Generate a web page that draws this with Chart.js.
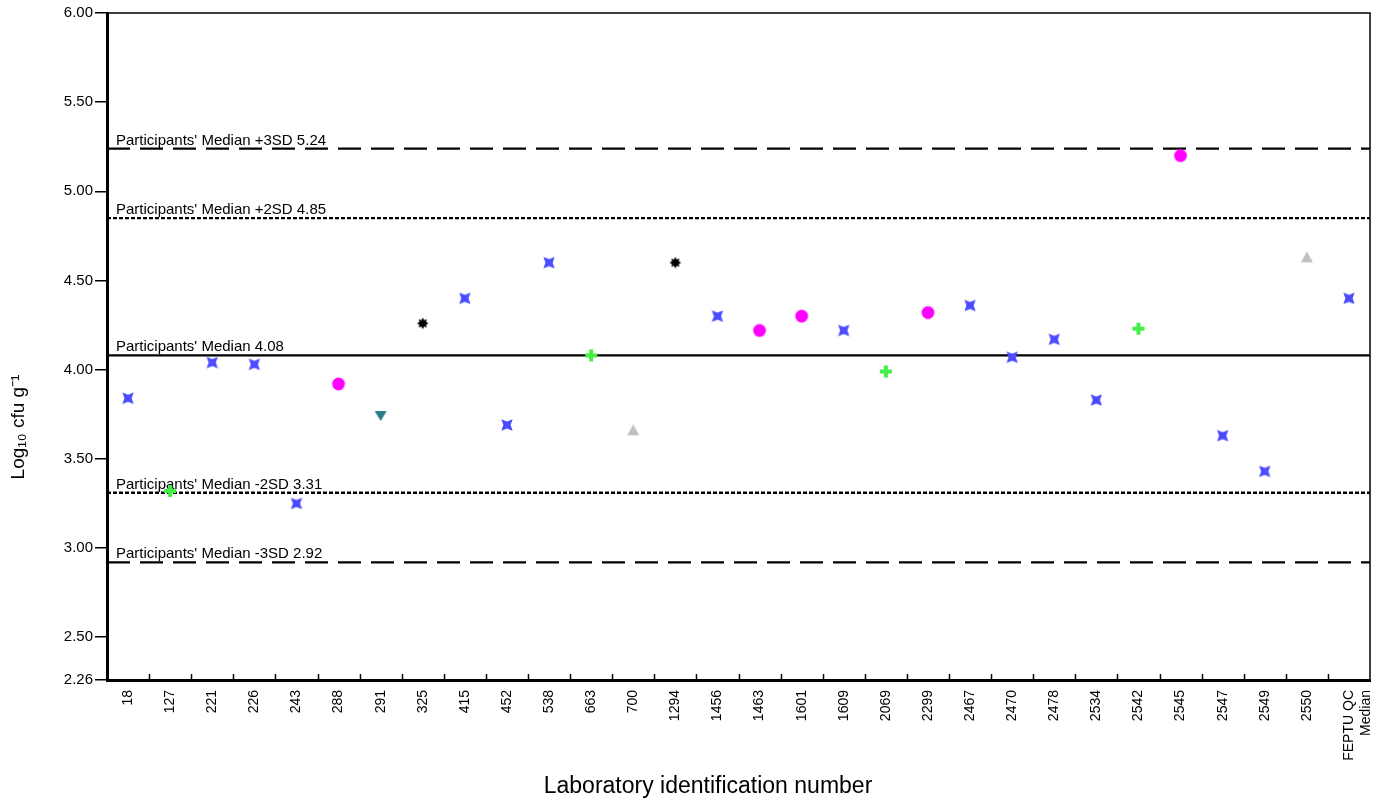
<!DOCTYPE html>
<html lang="en">
<head>
    <meta charset="UTF-8">
    <title>Laboratory results</title>
    <script src="https://cdn.jsdelivr.net/npm/chart.js"></script>
    <style>
        html, body { margin: 0; padding: 0; background: #fff; }
        #wrap { width: 1386px; height: 802px; }
    </style>
</head>
<body>
    <div id="wrap"><canvas id="labChart" width="1386" height="802"></canvas></div>

    <script>
        // lab ids on the x axis
        const labs = ['18', '127', '221', '226', '243', '288', '291', '325', '415', '452', '538', '663', '700',
            '1294', '1456', '1463', '1601', '1609', '2069', '2299', '2467', '2470', '2478', '2534', '2542',
            '2545', '2547', '2549', '2550', ['FEPTU QC', 'Median']];
        const results = [3.84, 3.32, 4.04, 4.03, 3.25, 3.92, 3.74, 4.26, 4.40, 3.69, 4.60, 4.08, 3.66,
            4.60, 4.30, 4.22, 4.30, 4.22, 3.99, 4.32, 4.36, 4.07, 4.17, 3.83, 4.23,
            5.20, 3.63, 3.43, 4.63, 4.40];
        const markers = ['star', 'plus', 'star', 'star', 'star', 'circle', 'down', 'burst', 'star', 'star', 'star', 'plus', 'up',
            'burst', 'star', 'circle', 'circle', 'star', 'plus', 'circle', 'star', 'star', 'star', 'star', 'plus',
            'circle', 'star', 'star', 'up', 'star'];

        const yTicks = [2.26, 2.50, 3.00, 3.50, 4.00, 4.50, 5.00, 5.50, 6.00];

        // participants' median and SD limits
        const refValues = [5.24, 4.85, 4.08, 3.31, 2.92];
        const refNames = ['+3SD ', '+2SD ', '', '-2SD ', '-3SD '];
        const refDash = [[23, 10], [4, 2], [], [4, 2], [23, 10]];

        const xTitle = 'Laboratory identification number';
        const yTitle = 'Log\u2081\u2080 cfu g\u207B\u00B9';
        const fontFamily = '"Liberation Sans", Arial, sans-serif';

        function makeMarker(type) {
            const c = document.createElement('canvas');
            c.width = 18; c.height = 18;
            const g = c.getContext('2d');
            g.translate(9, 9);
            g.beginPath();
            if (type === 'star') {
                g.fillStyle = '#4b4bff';
                for (let k = 0; k < 8; k++) {
                    const a = Math.PI / 4 + k * Math.PI / 4;
                    const r = k % 2 === 0 ? 8 : 3.6;
                    g.lineTo(r * Math.cos(a), r * Math.sin(a));
                }
            } else if (type === 'burst') {
                g.fillStyle = '#000';
                for (let k = 0; k < 16; k++) {
                    const a = k * Math.PI / 8;
                    const r = k % 2 === 0 ? 5.8 : 3.6;
                    g.lineTo(r * Math.cos(a), r * Math.sin(a));
                }
            } else if (type === 'circle') {
                g.fillStyle = '#ff00ff';
                g.arc(0, 0, 6.4, 0, Math.PI * 2);
            } else if (type === 'plus') {
                g.fillStyle = '#44ee44';
                g.rect(-6, -2, 12, 4);
                g.rect(-2, -6, 4, 12);
            } else if (type === 'down') {
                g.fillStyle = '#287a8a';
                g.moveTo(-6, -5); g.lineTo(6, -5); g.lineTo(0, 5);
            } else if (type === 'up') {
                g.fillStyle = '#c0c0c0';
                g.moveTo(0, -6); g.lineTo(6, 5); g.lineTo(-6, 5);
            }
            g.closePath();
            g.fill();
            return c;
        }

        const markerImgs = {};
        ['star', 'burst', 'circle', 'plus', 'down', 'up'].forEach(t => markerImgs[t] = makeMarker(t));

        const refLines = {
            id: 'refLines',
            beforeDatasetsDraw(chart) {
                const {ctx, chartArea} = chart;
                const y = chart.scales.y;
                ctx.save();
                refValues.forEach((v, i) => {
                    const py = y.getPixelForValue(v);
                    ctx.strokeStyle = '#000';
                    ctx.lineWidth = 2.3;
                    ctx.setLineDash(refDash[i]);
                    ctx.beginPath();
                    ctx.moveTo(chartArea.left, py);
                    ctx.lineTo(chartArea.right, py);
                    ctx.stroke();
                    ctx.setLineDash([]);
                    ctx.fillStyle = '#000';
                    ctx.font = '15px ' + fontFamily;
                    ctx.textBaseline = 'alphabetic';
                    ctx.fillText("Participants' Median " + refNames[i] + v.toFixed(2), chartArea.left + 9, py - 4);
                });
                ctx.restore();
            },
            afterDraw(chart) {
                const {ctx, chartArea} = chart;
                const x = chart.scales.x;
                ctx.save();
                ctx.strokeStyle = '#000';
                // frame top and right
                ctx.lineWidth = 1.5;
                ctx.beginPath();
                ctx.moveTo(chartArea.left, chartArea.top);
                ctx.lineTo(chartArea.right, chartArea.top);
                ctx.lineTo(chartArea.right, chartArea.bottom);
                ctx.stroke();
                // inward ticks between labs
                for (let i = 1; i < labs.length; i++) {
                    const px = (x.getPixelForValue(i - 1) + x.getPixelForValue(i)) / 2;
                    ctx.beginPath();
                    ctx.moveTo(Math.round(px) + 0.5, chartArea.bottom);
                    ctx.lineTo(Math.round(px) + 0.5, chartArea.bottom - 6);
                    ctx.stroke();
                }
                // axis titles
                ctx.fillStyle = '#000';
                ctx.textAlign = 'center';
                ctx.textBaseline = 'middle';
                ctx.font = '23px ' + fontFamily;
                ctx.fillText(xTitle, 708, 787);
                ctx.translate(19, 427);
                ctx.rotate(-Math.PI / 2);
                ctx.font = '19px ' + fontFamily;
                ctx.fillText(yTitle, 0, 0);
                ctx.restore();
            }
        };

        const ctx = document.getElementById('labChart').getContext('2d');
        const labChart = new Chart(ctx, {
            type: 'line',
            data: {
                labels: labs,
                datasets: [{
                    data: results,
                    showLine: false,
                    pointStyle: markers.map(m => markerImgs[m]),
                    pointRadius: 7,
                    pointHoverRadius: 7
                }]
            },
            options: {
                responsive: false,
                animation: false,
                layout: { padding: { left: 0, right: 16, top: 13, bottom: 0 } },
                plugins: {
                    legend: { display: false },
                    tooltip: { enabled: false }
                },
                scales: {
                    x: {
                        offset: true,
                        grid: { display: false, drawTicks: false },
                        border: { display: true, color: '#000', width: 3 },
                        ticks: {
                            color: '#000',
                            font: { family: fontFamily, size: 14 },
                            minRotation: 90,
                            maxRotation: 90,
                            autoSkip: false,
                            padding: 10
                        },
                        afterFit(scale) {
                            scale.height = 122;
                            scale.paddingLeft = 0;
                            scale.paddingRight = 0;
                        }
                    },
                    y: {
                        min: 2.26,
                        max: 6,
                        afterBuildTicks(scale) { scale.ticks = yTicks.map(v => ({ value: v })); },
                        grid: { drawOnChartArea: false, drawTicks: true, tickLength: 12, color: '#000', lineWidth: 1.5 },
                        border: { display: true, color: '#000', width: 3 },
                        ticks: {
                            color: '#000',
                            font: { family: fontFamily, size: 15 },
                            padding: 2,
                            callback: v => Number(v).toFixed(2)
                        },
                        afterFit(scale) {
                            scale.width = 107;
                            scale.paddingTop = 0;
                            scale.paddingBottom = 0;
                        }
                    }
                }
            },
            plugins: [refLines]
        });
    </script>
</body>
</html>
